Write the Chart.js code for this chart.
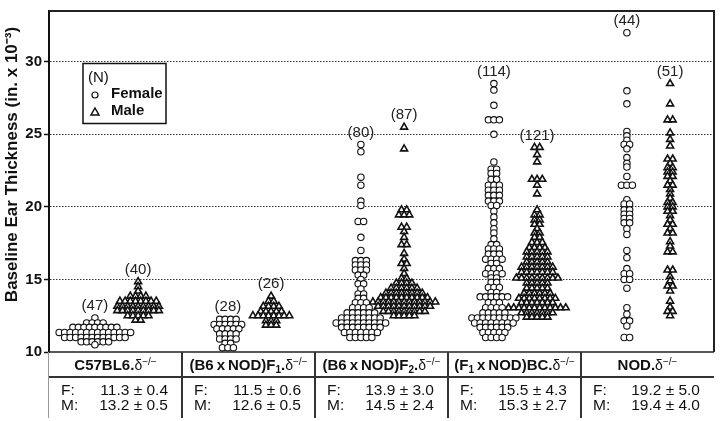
<!DOCTYPE html>
<html>
<head>
<meta charset="utf-8">
<script src="https://cdn.jsdelivr.net/npm/chart.js@4.4.1/dist/chart.umd.min.js"></script>
<style>
  body { margin: 0; background: #fff; }
  #wrap { position: relative; width: 720px; height: 421px; font-family: "Liberation Sans", Arial, sans-serif; color: #111; }
  #chart { position: absolute; left: 0; top: 0; }
  .hd { position: absolute; top: 355px; height: 20px; line-height: 20px; text-align: center; font-weight: bold; font-size: 15px; white-space: nowrap; }
  .hd sub { font-size: 10px; vertical-align: -3px; line-height: 0; }
  .hd sup { font-size: 10px; font-weight: normal; vertical-align: 5px; line-height: 0; }
  .hd .d { font-weight: normal; font-size: 14px; }
  .lab, .val { position: absolute; font-size: 15.5px; line-height: 16px; white-space: nowrap; }
  .vl { position: absolute; top: 352px; height: 66px; width: 1.5px; background: #333; }
  .hl { position: absolute; top: 376px; height: 1.5px; background: #333; }
</style>
</head>
<body>
<div id="wrap">
  <canvas id="chart" width="720" height="421"></canvas>
  <div id="table"></div>
</div>
<script>
// Strains, group sizes and the summary table under the plot
const strains = ['C57BL6.', '(B6\u2009x\u2009NOD)F<sub>1</sub>.', '(B6\u2009x\u2009NOD)F<sub>2</sub>.', '(F<sub>1</sub>\u2009x\u2009NOD)BC.', 'NOD.'];
const femaleN = [47, 28, 80, 114, 44];
const maleN = [40, 26, 87, 121, 51];
const femaleMean = [11.3, 11.5, 13.9, 15.5, 19.2];
const femaleSD = [0.4, 0.6, 3.0, 4.3, 5.0];
const maleMean = [13.2, 12.6, 14.5, 15.3, 19.4];
const maleSD = [0.5, 0.5, 2.4, 2.7, 4.0];
const yTicks = [10, 15, 20, 25, 30];

// Ear thickness readings, as [value, number of mice]
const c57Female = [[12.35,1],[12.0,4],[11.7,9],[11.35,14],[11.0,12],[10.7,6],[10.5,1]];
const c57Male = [[14.85,1],[14.5,1],[14.2,1],[13.85,4],[13.5,8],[13.15,9],[12.85,9],[12.5,5],[12.2,2]];
const f1Female = [[12.25,4],[11.9,6],[11.6,5],[11.25,4],[10.9,4],[10.6,2],[10.3,3]];
const f1Male = [[13.85,1],[13.5,2],[13.15,4],[12.8,5],[12.5,8],[12.15,3],[11.85,3]];
const f2Female = [[24.3,1],[23.8,1],[22.05,1],[21.5,1],[20.4,1],[20.1,1],[19.0,2],[17.9,1],[17.0,1],[16.3,3],[16.0,3],[15.65,3],[15.3,2],[15.0,1],[14.7,2],[14.35,1],[14.0,2],[13.7,2],[13.4,3],[13.05,4],[12.7,6],[12.35,8],[12.0,10],[11.7,8],[11.35,7],[11.0,5]];
const f2Male = [[25.5,1],[24.0,1],[19.8,2],[19.45,3],[18.6,2],[18.3,1],[17.9,1],[17.4,2],[16.8,1],[16.4,1],[16.1,2],[15.75,1],[15.4,1],[15.07,2],[14.75,4],[14.4,6],[14.06,8],[13.75,10],[13.45,13],[13.15,11],[12.8,9],[12.5,5]];
const bcFemale = [[28.5,1],[28.05,1],[27.0,1],[26.0,3],[25.0,1],[23.1,1],[22.6,2],[22.3,2],[21.9,2],[21.5,3],[21.15,3],[20.8,3],[20.4,3],[20.1,2],[19.7,1],[19.3,1],[18.9,1],[18.5,1],[18.2,1],[17.8,1],[17.4,2],[17.1,3],[16.75,3],[16.4,4],[16.1,2],[15.75,3],[15.4,4],[15.1,2],[14.8,2],[14.45,3],[14.1,2],[13.8,6],[13.4,3],[13.05,4],[12.7,5],[12.35,9],[12.0,8],[11.7,6],[11.35,5],[11.0,4]];
const bcMale = [[24.1,2],[23.6,1],[23.1,1],[21.9,3],[21.5,1],[20.9,1],[19.8,1],[19.45,2],[19.1,2],[18.8,2],[18.5,1],[18.2,2],[17.9,2],[17.55,3],[17.2,4],[16.9,5],[16.55,5],[16.2,5],[15.85,7],[15.5,7],[15.1,9],[14.75,5],[14.4,5],[14.05,6],[13.7,8],[13.4,7],[13.05,12],[12.7,7],[12.4,5]];
const nodFemale = [[32.0,1],[28.0,1],[27.1,1],[25.2,1],[24.9,1],[24.6,1],[24.3,2],[24.0,1],[23.4,1],[23.0,1],[22.75,1],[22.1,1],[21.5,3],[20.5,1],[20.2,2],[19.8,2],[19.5,2],[19.2,2],[18.9,2],[18.5,1],[18.1,1],[17.0,1],[16.5,1],[15.75,1],[15.4,2],[15.0,2],[14.4,1],[13.05,1],[12.6,1],[12.15,2],[11.8,1],[11.0,2]];
const nodMale = [[28.5,1],[27.1,1],[26.0,2],[25.1,1],[24.65,1],[24.2,1],[23.3,2],[23.0,1],[22.7,2],[22.4,2],[22.1,2],[21.8,1],[21.5,2],[21.2,1],[20.9,1],[20.6,1],[20.3,2],[20.0,2],[19.7,2],[19.4,1],[19.1,1],[18.8,2],[18.5,1],[18.2,2],[17.6,1],[17.3,1],[16.9,2],[15.65,2],[15.2,1],[14.9,1],[14.55,2],[14.2,1],[13.5,1],[13.1,1],[12.8,2],[12.5,1]];

const femaleGroups = [c57Female, f1Female, f2Female, bcFemale, nodFemale];
const maleGroups = [c57Male, f1Male, f2Male, bcMale, nodMale];

const FEMALE_OFF = -0.155;
const MALE_OFF = 0.17;

function buildPoints(groups, off) {
    const pts = [];
    groups.forEach((g, i) => {
        g.forEach(([v, n]) => {
            for (let j = 0; j < n; j++) pts.push({ x: i + off, y: v, g: i, off: off, j: j, n: n });
        });
    });
    return pts;
}

// mice with the same reading sit side by side, centred on the strain's column
function spreadRows(chart, dsIndex, spacing) {
    const xs = chart.scales.x;
    chart.data.datasets[dsIndex].data.forEach(p => {
        const cx = xs.getPixelForValue(p.g + p.off);
        p.x = xs.getValueForPixel(cx + (p.j - (p.n - 1) / 2) * spacing);
    });
}

const decorations = {
    id: 'decorations',
    afterDatasetsDraw(chart) {
        const { ctx, chartArea: a, scales: { x, y } } = chart;
        ctx.save();
        // frame
        ctx.strokeStyle = '#222';
        ctx.lineWidth = 2;
        ctx.beginPath();
        ctx.moveTo(a.left, a.top);
        ctx.lineTo(a.right, a.top);
        ctx.lineTo(a.right, a.bottom);
        ctx.stroke();
        ctx.lineWidth = 1.5;
        ctx.beginPath();
        ctx.moveTo(a.left, a.bottom);
        ctx.lineTo(a.right, a.bottom);
        ctx.stroke();

        // (N) over each swarm
        ctx.font = '15px "Liberation Sans", Arial';
        ctx.fillStyle = '#222';
        ctx.textAlign = 'center';
        ctx.textBaseline = 'middle';
        [[femaleGroups, femaleN, FEMALE_OFF], [maleGroups, maleN, MALE_OFF]].forEach(([groups, ns, off]) => {
            groups.forEach((g, i) => {
                const top = Math.max(...g.map(p => p[0]));
                ctx.fillText('(' + ns[i] + ')', x.getPixelForValue(i + off), y.getPixelForValue(top) - 12);
            });
        });

        // legend box
        ctx.lineWidth = 1.5;
        ctx.strokeStyle = '#111';
        ctx.strokeRect(83, 63.5, 83, 60);
        ctx.textAlign = 'left';
        ctx.fillStyle = '#111';
        ctx.fillText('(N)', 88, 78);
        ctx.font = 'bold 15px "Liberation Sans", Arial';
        ctx.fillText('Female', 111, 94);
        ctx.fillText('Male', 111, 111);
        ctx.lineWidth = 1.2;
        ctx.beginPath();
        ctx.arc(95, 95, 3, 0, Math.PI * 2);
        ctx.stroke();
        ctx.beginPath();
        ctx.moveTo(95, 108);
        ctx.lineTo(99, 115);
        ctx.lineTo(91, 115);
        ctx.closePath();
        ctx.lineWidth = 1.5;
        ctx.stroke();
        ctx.restore();
    }
};

const chart = new Chart(document.getElementById('chart'), {
    type: 'scatter',
    data: {
        datasets: [{
            label: 'Female',
            data: buildPoints(femaleGroups, FEMALE_OFF),
            pointStyle: 'circle',
            pointRadius: 3.2,
            backgroundColor: '#fff',
            borderColor: '#111',
            borderWidth: 1.1
        }, {
            label: 'Male',
            data: buildPoints(maleGroups, MALE_OFF),
            pointStyle: 'triangle',
            pointRadius: 4,
            backgroundColor: '#fff',
            borderColor: '#111',
            borderWidth: 1.6
        }]
    },
    options: {
        responsive: false,
        animation: false,
        layout: { padding: { left: 0, right: 6, top: 4, bottom: 69 } },
        plugins: { legend: { display: false }, tooltip: { enabled: false } },
        scales: {
            x: { type: 'linear', min: -0.5, max: 4.5, display: false },
            y: {
                min: 10,
                max: 33.5,
                afterFit: s => { s.width = 49; },
                afterBuildTicks: s => { s.ticks = yTicks.map(v => ({ value: v })); },
                border: { display: true, color: '#111', width: 2, dash: [1.5, 1.5] },
                grid: {
                    color: c => (c.tick && c.tick.value === 10) ? 'rgba(0,0,0,0)' : '#333',
                    lineWidth: 1,
                    tickLength: 5,
                    tickColor: '#111',
                    tickWidth: 1.5
                },
                ticks: {
                    color: '#111',
                    padding: 2,
                    font: { family: '"Liberation Sans", Arial', size: 15, weight: 'bold' }
                },
                title: {
                    display: true,
                    // leading en spaces nudge the title up, as in the original figure
                    text: '\u2002\u2002\u2002\u2002Baseline Ear Thickness (in. x 10\u207B\u00B3)',
                    color: '#111',
                    padding: { top: 2, bottom: 0 },
                    font: { family: '"Liberation Sans", Arial', size: 17, weight: 'bold' }
                }
            }
        }
    },
    plugins: [decorations]
});

spreadRows(chart, 0, 5.5);
spreadRows(chart, 1, 5.2);
chart.update('none');

// table under the plot
const tbl = document.getElementById('table');
function add(cls, style, html) {
    const el = document.createElement('div');
    el.className = cls;
    Object.assign(el.style, style);
    if (html) el.innerHTML = html;
    tbl.appendChild(el);
    return el;
}
const xs = chart.scales.x;
const area = chart.chartArea;
add('hl', { left: area.left + 'px', width: (area.right - area.left) + 'px' });
strains.forEach((s, i) => {
    const l = xs.getPixelForValue(i - 0.5), r = xs.getPixelForValue(i + 0.5);
    add('vl', { left: (l - 0.75) + 'px', background: i === 0 ? '#999' : '#333', width: i === 0 ? '1px' : '1.5px' });
    add('hd', { left: l + 'px', width: (r - l) + 'px' }, s + '<span class="d">\u03B4</span><sup>\u2212/\u2212</sup>');
    [['F:', femaleMean[i], femaleSD[i], 382], ['M:', maleMean[i], maleSD[i], 397]].forEach(([lab, m, sd, top]) => {
        add('lab', { left: (l + 12) + 'px', top: top + 'px' }, lab);
        add('val', { right: (720 - r + 14) + 'px', top: top + 'px' }, m.toFixed(1) + ' \u00B1 ' + sd.toFixed(1));
    });
});
</script>
</body>
</html>
